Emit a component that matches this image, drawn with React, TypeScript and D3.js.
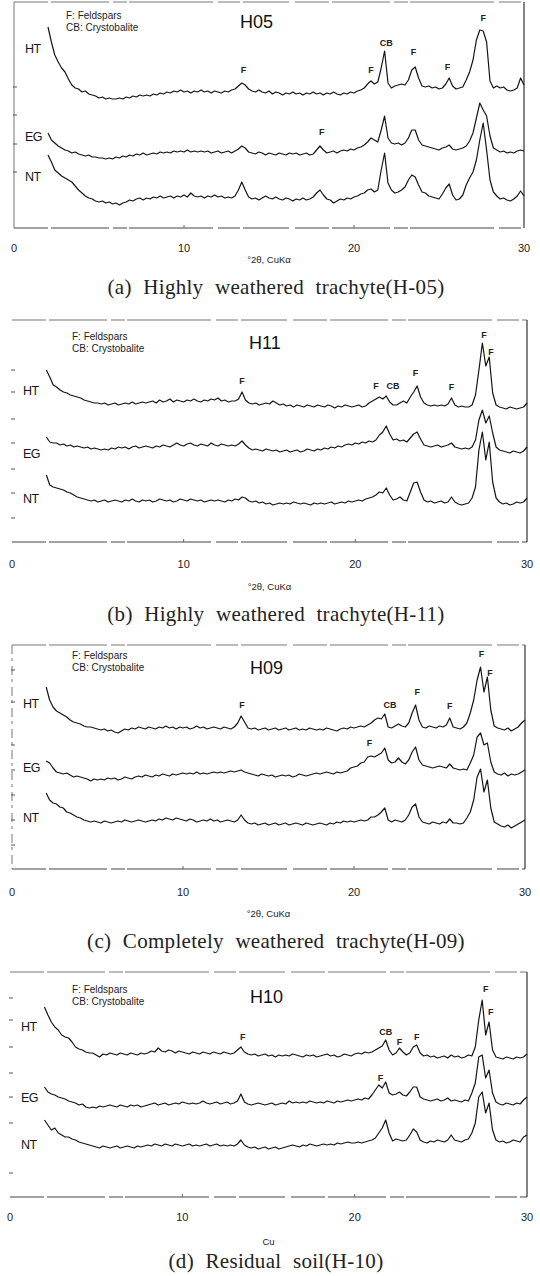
import React from "react";
import * as d3 from "d3";

// step scan: 2.0 to 30.0 degrees 2-theta, every 0.2 degree
const scanStart = 2.0;
const scanStep = 0.2;

const traceNames = ["HT", "EG", "NT"];
const xTicks = [0, 10, 20, 30];

// H-05
const h05HT = [201,186,173,166,160,156,149,143,140,139,
  136,137,134,133,132,130,131,129,130,129,
  129,130,129,131,130,132,131,133,132,133,
  132,134,133,135,134,136,135,137,136,138,
  136,137,135,137,136,138,136,137,135,137,
  136,135,137,136,138,139,142,145,143,139,
  137,136,138,136,135,137,134,136,135,133,
  135,134,136,134,135,133,135,134,136,134,
  135,133,135,134,136,134,133,135,134,136,
  135,137,138,140,144,147,144,146,160,177,
  145,140,142,143,144,143,148,158,161,150,
  142,141,142,140,141,139,140,144,150,142,
  139,140,141,148,156,168,188,198,197,186,
  147,140,142,140,141,138,137,138,140,150,
  143];
const h05EG = [95,88,85,82,80,78,77,75,76,74,
  73,72,73,71,71,70,70,69,70,69,
  71,70,72,71,73,72,74,73,75,73,
  74,75,74,76,75,76,75,77,76,77,
  76,78,76,77,76,77,76,77,75,76,
  77,75,76,77,75,77,79,82,80,76,
  75,74,76,75,73,75,74,73,75,74,
  73,75,74,75,73,74,75,73,74,78,
  82,78,75,76,77,75,77,78,77,79,
  78,80,81,83,86,90,88,86,98,112,
  90,85,84,85,83,85,90,98,98,88,
  83,82,81,80,79,78,80,81,83,79,
  78,79,80,82,87,95,110,125,118,112,
  92,80,78,76,77,75,76,75,77,78,
  77];
const h05NT = [73,66,58,55,52,50,48,46,42,38,
  35,32,30,29,27,26,27,25,26,24,
  25,23,25,26,28,27,29,30,28,30,
  29,31,30,32,30,31,32,30,32,31,
  33,31,35,32,31,32,30,32,31,33,
  31,32,30,31,30,32,38,46,38,31,
  29,30,28,30,32,30,29,31,29,28,
  30,29,27,29,28,30,28,29,31,35,
  38,33,29,28,25,27,29,28,30,29,
  31,32,34,35,38,39,36,38,58,75,
  45,38,35,36,38,41,48,53,51,43,
  36,35,32,31,30,29,34,40,44,33,
  28,29,33,43,50,56,68,88,105,78,
  48,36,32,29,30,28,27,29,32,37,
  32];

// H-11
const h11HT = [172,165,157,155,152,150,149,147,146,145,
  144,142,141,140,139,139,138,139,137,138,
  139,137,138,139,138,140,138,139,140,139,
  140,141,139,142,140,141,143,140,142,141,
  140,142,141,143,141,140,142,141,143,142,
  144,141,142,140,141,141,143,150,142,139,
  138,139,137,138,139,138,141,139,137,138,
  136,137,135,137,136,135,137,136,135,137,
  136,135,137,136,134,136,135,137,136,135,
  136,137,135,136,139,141,143,145,143,146,
  140,137,137,139,141,139,145,150,156,145,
  139,137,136,137,136,137,136,138,144,137,
  135,136,135,135,137,147,172,199,176,185,
  149,137,135,134,133,135,134,133,134,135,
  139];
const h11EG = [105,100,99,99,97,98,96,97,95,96,
  95,94,95,93,94,93,92,93,92,94,
  93,95,94,95,93,95,96,94,95,96,
  95,94,96,95,97,96,95,97,99,97,
  96,98,99,97,96,98,97,96,99,97,
  96,98,97,96,97,96,98,101,97,94,
  92,93,92,91,93,92,91,92,90,91,
  92,90,91,92,90,91,93,92,91,93,
  92,94,93,95,94,96,95,97,98,97,
  99,98,100,99,101,100,102,107,110,116,
  108,102,103,101,102,100,104,108,110,103,
  97,96,95,96,97,95,96,97,99,95,
  94,93,94,93,95,102,122,132,119,126,
  109,95,92,91,90,89,91,90,89,91,
  95];
const h11NT = [67,57,55,54,53,52,50,49,47,45,
  44,43,42,41,42,40,41,42,40,41,
  42,41,40,42,41,43,41,40,42,41,
  42,40,41,43,42,41,42,40,41,43,
  42,41,43,42,41,42,40,41,42,41,
  42,41,40,42,41,43,42,45,44,41,
  40,41,39,40,38,39,37,38,39,38,
  39,38,40,39,38,39,38,37,39,38,
  39,38,39,40,38,39,40,39,41,40,
  41,42,41,43,44,45,47,50,49,54,
  47,42,43,45,42,41,50,59,60,50,
  42,40,41,39,40,41,39,40,45,40,
  38,37,38,39,44,55,92,110,82,100,
  60,44,40,38,39,37,38,40,39,40,
  44];

// H-09
const h09HT = [182,169,162,158,156,154,152,149,147,146,
  145,143,142,142,141,140,139,140,138,139,
  137,136,138,140,139,141,140,142,141,140,
  142,141,140,142,141,143,141,142,140,142,
  141,142,140,141,143,141,142,140,141,142,
  141,140,142,141,140,142,146,153,147,141,
  140,141,139,140,141,139,140,141,139,140,
  141,139,140,141,139,140,139,141,140,139,
  140,139,141,140,139,138,140,141,140,142,
  141,142,143,142,144,146,149,151,150,155,
  142,141,143,145,143,142,146,156,164,149,
  142,141,143,142,141,143,142,144,151,142,
  141,140,142,146,156,169,189,202,177,192,
  159,143,141,140,139,141,138,140,142,146,
  149];
const h09EG = [108,106,101,97,96,95,96,94,92,93,
  92,91,90,88,90,89,90,89,91,90,
  91,89,90,92,91,90,92,93,92,94,
  93,92,94,93,95,94,93,95,94,95,
  96,95,96,95,97,95,96,95,96,97,
  96,97,96,97,98,97,98,99,97,96,
  95,94,93,95,94,93,94,92,93,94,
  93,94,92,93,95,94,93,94,95,96,
  95,96,97,96,95,97,96,97,98,101,
  102,103,106,107,112,113,112,114,116,121,
  109,106,107,111,107,105,109,117,122,109,
  104,103,102,101,102,103,102,101,105,101,
  100,99,100,99,106,114,132,136,124,126,
  107,97,95,94,96,93,95,94,95,97,
  99];
const h09NT = [76,69,66,65,62,61,57,56,54,52,
  51,49,48,47,48,47,46,48,47,46,
  47,48,47,49,48,47,48,49,48,47,
  48,49,48,50,49,51,50,49,51,50,
  49,48,50,49,47,48,49,48,50,48,
  49,47,48,49,48,47,49,54,49,46,
  45,46,44,45,46,44,45,46,44,45,
  46,44,45,46,45,44,46,45,44,45,
  46,45,44,46,45,47,46,48,47,48,
  47,48,49,48,49,52,52,54,57,61,
  49,47,49,48,47,49,54,62,65,52,
  47,46,45,47,46,45,47,46,50,46,
  46,45,46,51,57,69,92,100,77,89,
  61,47,45,43,42,44,41,43,45,47,
  49];

// H-10
const h10HT = [190,182,175,170,167,162,160,159,155,150,
  148,147,145,144,144,142,140,143,142,144,
  143,142,144,143,142,144,143,142,144,143,
  144,146,145,149,146,145,147,146,144,146,
  145,144,143,145,144,143,145,144,143,145,
  144,143,145,144,143,144,147,150,145,143,
  142,143,141,142,143,141,142,140,142,141,
  142,141,143,142,141,140,142,141,142,140,
  141,142,143,141,142,140,141,143,142,141,
  143,144,143,145,144,145,147,149,151,157,
  147,142,144,149,145,142,144,150,152,144,
  141,142,140,141,139,140,141,139,142,140,
  141,139,140,142,141,150,177,197,162,175,
  147,140,139,138,140,139,138,140,139,140,
  143];
const h10EG = [110,105,103,102,100,99,98,96,95,94,
  92,93,90,89,90,89,91,90,91,92,
  91,90,92,91,90,92,91,92,90,91,
  92,93,94,92,93,94,92,93,94,93,
  95,94,93,94,93,94,96,94,93,94,
  95,93,94,95,93,94,96,103,95,93,
  92,93,94,93,92,93,94,92,93,94,
  93,96,94,95,94,95,94,96,95,94,
  95,94,96,95,94,96,95,96,97,96,
  97,98,97,99,98,102,107,112,109,115,
  104,102,103,105,102,101,105,110,110,100,
  98,97,96,97,98,96,97,99,96,97,
  96,95,97,96,104,114,140,142,119,127,
  104,95,93,92,94,93,92,94,93,97,
  100];
const h10NT = [77,72,67,69,64,62,60,60,58,57,
  55,54,53,52,51,50,49,51,50,49,
  50,51,49,50,51,50,49,51,50,51,
  52,51,53,52,51,53,52,51,53,52,
  51,52,53,51,52,51,52,53,51,52,
  53,51,52,51,52,51,53,57,52,50,
  49,50,48,49,50,48,49,50,48,49,
  50,51,52,51,50,52,51,53,52,51,
  52,53,52,53,52,54,53,54,55,54,
  54,55,54,55,56,57,59,64,69,77,
  64,56,58,57,56,57,62,68,65,57,
  55,54,56,55,57,56,55,57,62,57,
  56,55,57,58,64,74,100,105,84,94,
  67,57,55,56,54,55,57,56,55,60,
  62];

// peak labels: [mineral, 2theta, intensity]
const h05Peaks = [["F", 13.5, 158], ["F", 21.0, 158], ["CB", 21.9, 185], ["F", 23.5, 176], ["F", 25.5, 161], ["F", 27.6, 210], ["F", 18.1, 96]];
const h11Peaks = [["F", 13.4, 161], ["F", 21.2, 156], ["CB", 22.2, 156], ["F", 23.5, 169], ["F", 25.6, 155], ["F", 27.5, 207], ["F", 27.9, 190]];
const h09Peaks = [["F", 13.45, 164], ["CB", 22.1, 164], ["F", 23.7, 177], ["F", 25.6, 163], ["F", 27.45, 215], ["F", 27.95, 196], ["F", 20.9, 126]];
const h10Peaks = [["F", 13.5, 160], ["CB", 21.8, 165], ["F", 22.6, 155], ["F", 23.6, 160], ["F", 27.6, 208], ["F", 27.9, 185], ["F", 21.5, 119]];

// level of the HT / EG / NT names
const h05NameLevels = [180, 92, 52];
const h11NameLevels = [152, 89, 44];
const h09NameLevels = [166, 102, 52];
const h10NameLevels = [171, 100, 53];

const h05YTicks = [56, 84, 113, 141];
const h11YTicks = [24, 49, 73, 99, 123, 150, 172];
const h09YTicks = [24, 49, 74, 99, 124, 167, 199];
const h10YTicks = [24, 74, 100, 124, 150, 177, 199];

const panels = [
  {
    id: "H05", caption: "(a) Highly weathered trachyte(H-05)", axisTitle: "°2θ, CuKα",
    series: [h05HT, h05EG, h05NT], peaks: h05Peaks, nameLevels: h05NameLevels, yTicks: h05YTicks,
    box: { left: 14, right: 524, top: 2, bottom: 228, legendX: 66, legendY: 19, titleX: 240, titleY: 28, nameX: 25, tickY: 252, axisTitleY: 263, captionY: 294, leftBorder: "solid" },
  },
  {
    id: "H11", caption: "(b) Highly weathered trachyte(H-11)", axisTitle: "°2θ, CuKα",
    series: [h11HT, h11EG, h11NT], peaks: h11Peaks, nameLevels: h11NameLevels, yTicks: h11YTicks,
    box: { left: 12, right: 527, top: 320, bottom: 542, legendX: 72, legendY: 340, titleX: 249, titleY: 349, nameX: 23, tickY: 568, axisTitleY: 590, captionY: 621, leftBorder: "none" },
  },
  {
    id: "H09", caption: "(c) Completely weathered trachyte(H-09)", axisTitle: "°2θ, CuKα",
    series: [h09HT, h09EG, h09NT], peaks: h09Peaks, nameLevels: h09NameLevels, yTicks: h09YTicks,
    box: { left: 12, right: 525, top: 645, bottom: 869, legendX: 72, legendY: 659, titleX: 250, titleY: 674, nameX: 23, tickY: 896, axisTitleY: 917, captionY: 948, leftBorder: "dashed" },
  },
  {
    id: "H10", caption: "(d) Residual soil(H-10)", axisTitle: "Cu",
    series: [h10HT, h10EG, h10NT], peaks: h10Peaks, nameLevels: h10NameLevels, yTicks: h10YTicks,
    box: { left: 10, right: 527, top: 972, bottom: 1197, legendX: 72, legendY: 993, titleX: 250, titleY: 1003, nameX: 21, tickY: 1221, axisTitleY: 1245, captionY: 1268, leftBorder: "none" },
  },
];

const sans = "'Liberation Sans', Arial, sans-serif";
const serif = "'Liberation Serif', 'Times New Roman', serif";
const scanDash = "34 3 58 4 14 2 84 5 22 3 46 6";

function Panel({ p }: { p: any }) {
  const b = p.box;
  const x = d3.scaleLinear().domain([0, 30]).range([b.left, b.right]);
  const y = d3.scaleLinear().domain([0, b.bottom - b.top]).range([b.bottom, b.top]);
  const line = d3.line<number>()
    .x((d, i) => x(scanStart + i * scanStep))
    .y(d => y(d));

  return (
    <g>
      {/* frame, scanned look */}
      <line x1={b.left} x2={b.right} y1={b.top} y2={b.top} stroke="#777" strokeWidth={1} strokeDasharray={scanDash} />
      <line x1={b.left} x2={b.right} y1={b.bottom} y2={b.bottom} stroke="#444" strokeWidth={1.1} strokeDasharray={scanDash} />
      <line x1={b.right} x2={b.right} y1={b.top} y2={b.bottom} stroke="#333" strokeWidth={1.2} />
      {b.leftBorder !== "none" && (
        <line x1={b.left} x2={b.left} y1={b.top} y2={b.bottom} stroke="#777" strokeWidth={1}
          strokeDasharray={b.leftBorder === "dashed" ? "9 4 3 5" : undefined} />
      )}
      {p.yTicks.map((t: number, i: number) => (
        <line key={i} x1={b.left - 1} x2={b.left + 3} y1={y(t)} y2={y(t)} stroke="#555" strokeWidth={1} />
      ))}
      {[10, 20].map(t => (
        <line key={t} x1={x(t)} x2={x(t)} y1={b.bottom} y2={b.bottom - 3} stroke="#666" strokeWidth={1} />
      ))}

      {p.series.map((s: number[], i: number) => (
        <path key={i} d={line(s) || ""} fill="none" stroke="#141414" strokeWidth={1.2} strokeLinejoin="round" />
      ))}

      {traceNames.map((n, i) => (
        <text key={n} x={b.nameX} y={y(p.nameLevels[i])} dy="0.36em" fontFamily={sans} fontSize={12.5}
          letterSpacing={-0.6} fill="#151515">{n}</text>
      ))}

      {p.peaks.map((k: any[], i: number) => (
        <text key={i} x={x(k[1])} y={y(k[2])} dy="0.35em" textAnchor="middle" fontFamily={sans}
          fontSize={9} fontWeight="bold" fill="#222">{k[0]}</text>
      ))}

      <text x={b.legendX} y={b.legendY} fontFamily={sans} fontSize={10} fill="#222">F: Feldspars</text>
      <text x={b.legendX} y={b.legendY + 12} fontFamily={sans} fontSize={10} fill="#222">CB: Crystobalite</text>
      <text x={b.titleX} y={b.titleY} fontFamily={sans} fontSize={18} fill="#111">{p.id}</text>

      {xTicks.map(t => (
        <text key={t} x={x(t)} y={b.tickY} textAnchor="middle" fontFamily={sans} fontSize={11} fill="#222">{t}</text>
      ))}
      <text x={(b.left + b.right) / 2} y={b.axisTitleY} textAnchor="middle" fontFamily={sans} fontSize={9.5} fill="#222">
        {p.axisTitle}
      </text>
      <text x={276} y={b.captionY} textAnchor="middle" fontFamily={serif} fontSize={21} letterSpacing={0.3}
        wordSpacing={6} fill="#222">{p.caption}</text>
    </g>
  );
}

export default function App() {
  return (
    <svg width={540} height={1276} style={{ position: "absolute", left: 0, top: 0, background: "#fff" }}>
      <rect width={540} height={1276} fill="#fff" />
      {panels.map(p => <Panel key={p.id} p={p} />)}
    </svg>
  );
}
